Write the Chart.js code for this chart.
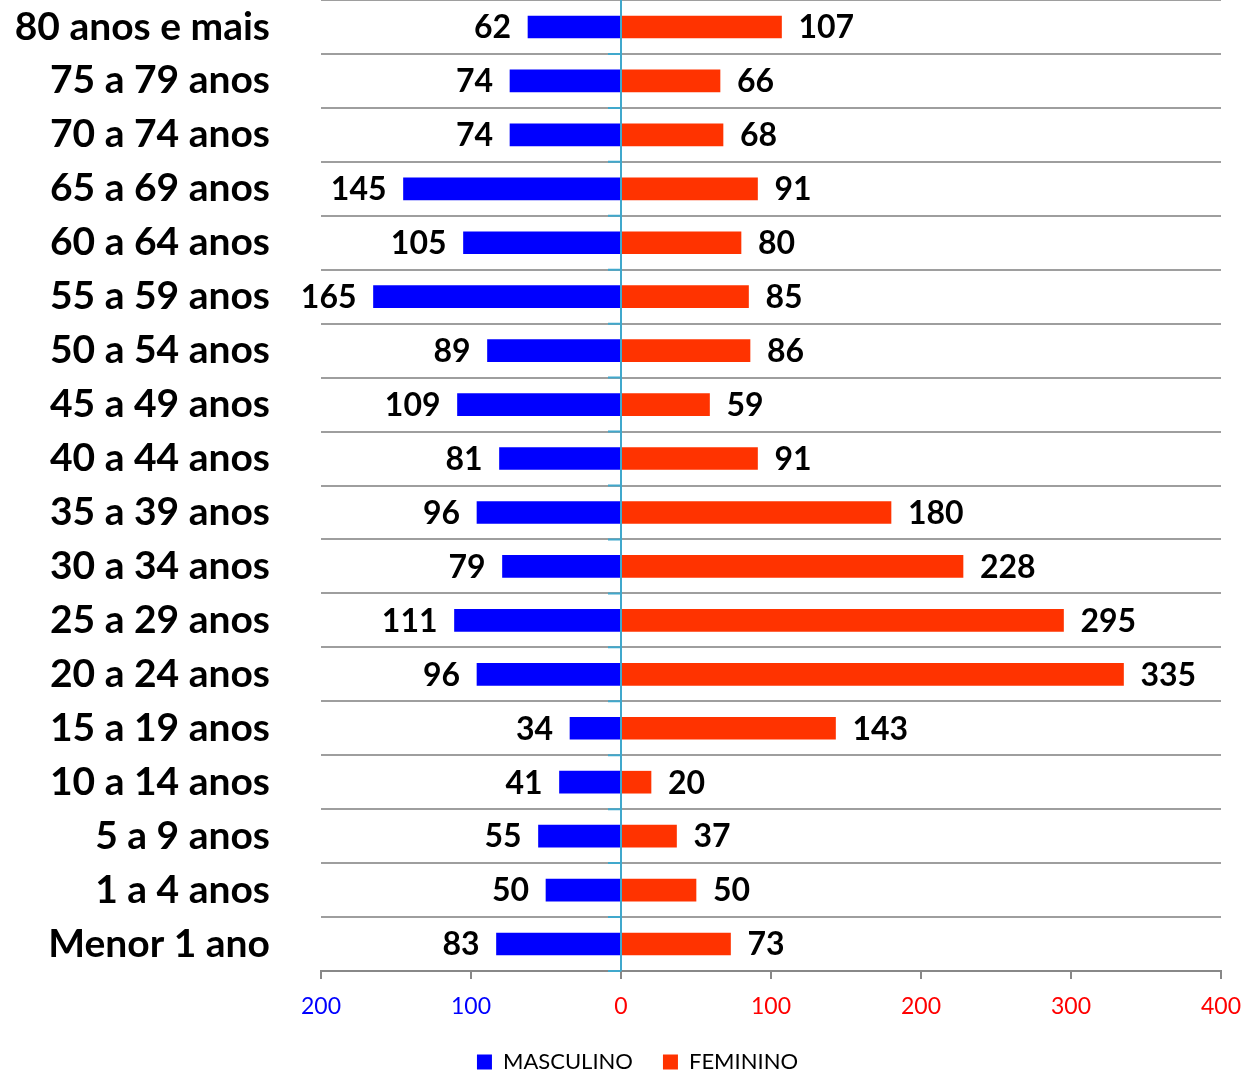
<!DOCTYPE html>
<html>
<head>
<meta charset="utf-8">
<script src="https://cdn.jsdelivr.net/npm/chart.js@4.4.0/dist/chart.umd.min.js"></script>
<style>
html,body{margin:0;padding:0;background:#fff;}
#wrap{width:1244px;height:1073px;position:relative;}
</style>
</head>
<body>
<div id="wrap"><canvas id="c" width="1244" height="1073"></canvas></div>
<script>
const categories = ["80 anos e mais","75 a 79 anos","70 a 74 anos","65 a 69 anos","60 a 64 anos","55 a 59 anos","50 a 54 anos","45 a 49 anos","40 a 44 anos","35 a 39 anos","30 a 34 anos","25 a 29 anos","20 a 24 anos","15 a 19 anos","10 a 14 anos","5 a 9 anos","1 a 4 anos","Menor 1 ano"];
const masculino = [62,74,74,145,105,165,89,109,81,96,79,111,96,34,41,55,50,83];
const feminino = [107,66,68,91,80,85,86,59,91,180,228,295,335,143,20,37,50,73];
const seriesNames = ["MASCULINO","FEMININO"];
const xTicks = [-200,-100,0,100,200,300,400];

const FONT = "Lato, 'Open Sans', sans-serif";

const labelPlugin = {
  id: 'valueLabels',
  afterLayout(chart) {
    const l = chart.legend;
    if (l && !l._shifted) { l.left += 27; l.right += 27; l._shifted = true; }
  },
  afterDatasetsDraw(chart) {
    const ctx = chart.ctx;
    const xs = chart.scales.x;
    const x0 = xs.getPixelForValue(0);
    const ca = chart.chartArea;
    ctx.save();
    ctx.strokeStyle = '#40a8cc';
    ctx.lineWidth = 2;
    ctx.beginPath();
    ctx.moveTo(x0, ca.top);
    ctx.lineTo(x0, ca.bottom);
    ctx.stroke();
    const n = categories.length;
    const step = (ca.bottom - ca.top) / n;
    ctx.beginPath();
    for (let i = 1; i <= n; i++) {
      const y = ca.top + step * i;
      ctx.moveTo(x0 - 13, y);
      ctx.lineTo(x0, y);
    }
    ctx.stroke();
    ctx.restore();

    ctx.save();
    ctx.font = "bold 32px " + FONT;
    ctx.fillStyle = '#000';
    ctx.textBaseline = 'middle';
    chart.data.datasets.forEach((ds, di) => {
      const meta = chart.getDatasetMeta(di);
      meta.data.forEach((el, i) => {
        const v = Math.abs(ds.data[i]);
        if (ds.data[i] < 0) {
          ctx.textAlign = 'right';
          ctx.fillText(String(v), el.x - 17, el.y + 1);
        } else {
          ctx.textAlign = 'left';
          ctx.fillText(String(v), el.x + 17, el.y + 1);
        }
      });
    });
    ctx.restore();
  }
};

new Chart(document.getElementById('c'), {
  type: 'bar',
  data: {
    labels: categories,
    datasets: [
      { label: seriesNames[0], data: masculino.map(v => -v), backgroundColor: '#0000ff', barThickness: 22 },
      { label: seriesNames[1], data: feminino, backgroundColor: '#ff3300', barThickness: 22 }
    ]
  },
  options: {
    indexAxis: 'y',
    responsive: false,
    animation: false,
    devicePixelRatio: 1,
    layout: { padding: { top: -1, right: 23, left: 0, bottom: -10 } },
    scales: {
      x: {
        stacked: true,
        min: -200, max: 400,
        afterBuildTicks(s) { s.ticks = xTicks.map(v => ({ value: v })); },
        afterFit(s) { s.height = 50; s.paddingLeft = 0; s.paddingRight = 0; },
        ticks: {
          callback: v => String(Math.abs(v)),
          color: c => (c.tick && c.tick.value < 0) ? '#0000ff' : '#ff0000',
          font: { family: FONT, size: 23 },
          padding: 14,
          maxRotation: 0,
          autoSkip: false
        },
        grid: { drawOnChartArea: false, drawTicks: true, tickLength: 8, color: '#888888', lineWidth: 2 },
        border: { display: true, color: '#888888', width: 2 }
      },
      y: {
        stacked: true,
        afterFit(s) { s.width = 321; s.paddingTop = 0; s.paddingBottom = 0; },
        ticks: {
          color: '#000',
          font: { family: FONT, size: 39, weight: 'bold' },
          padding: 51,
          autoSkip: false
        },
        grid: { color: '#9e9e9e', lineWidth: 2, drawTicks: false, offset: true },
        border: { display: false }
      }
    },
    plugins: {
      legend: {
        position: 'bottom',
        labels: {
          color: '#000',
          font: { family: FONT, size: 22 },
          boxWidth: 15, boxHeight: 15,
          padding: 30
        }
      },
      tooltip: { enabled: false }
    }
  },
  plugins: [labelPlugin]
});
</script>
</body>
</html>
